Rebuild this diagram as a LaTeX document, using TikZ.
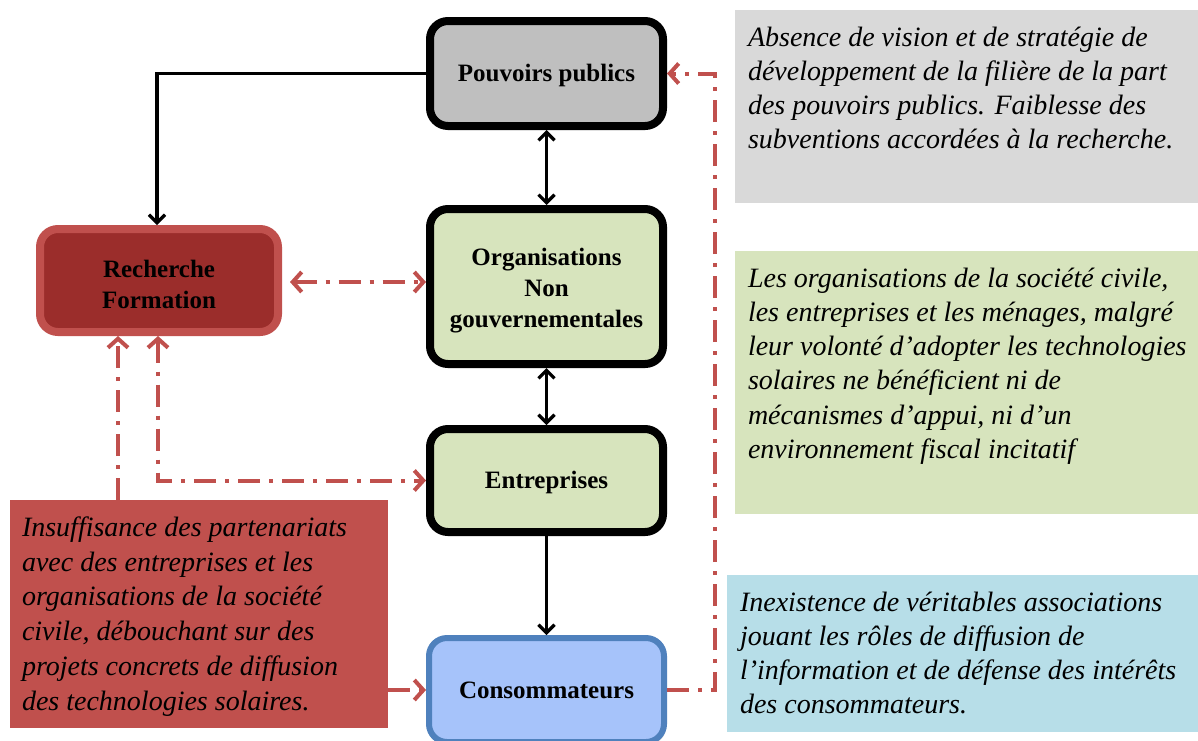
\documentclass[tikz,border=0pt]{standalone}
\usepackage{fontspec}
\setmainfont{Liberation Serif}
\usetikzlibrary{arrows.meta,shadows}
\definecolor{redline}{HTML}{C0504D}
\definecolor{darkred}{HTML}{9B2D2B}
\definecolor{pgray}{HTML}{BFBFBF}
\definecolor{lgreen}{HTML}{D7E4BD}
\definecolor{lblue}{HTML}{A6C3FA}
\definecolor{bblue}{HTML}{4F81BD}
\definecolor{tgray}{HTML}{D9D9D9}
\definecolor{tblue}{HTML}{B7DEE8}
\definecolor{tred}{HTML}{C0504D}
\begin{document}
\begin{tikzpicture}[x=1pt,y=-1pt,
  actor/.style={rounded corners=18pt, line width=8pt, draw=black, align=center,
    font=\bfseries\fontsize{25}{31}\selectfont, inner sep=0pt,
    drop shadow={opacity=0.25, shadow xshift=2pt, shadow yshift=-3pt}},
  note/.style={anchor=north west, inner sep=0pt, outer sep=0pt},
  tipb/.tip={Straight Barb[length=8pt,width=16pt,line width=3.3pt]},
  tipr/.tip={Straight Barb[length=9pt,width=20pt,line width=4pt]},
  flow/.style={line width=3.3pt, -tipb},
  bothflow/.style={line width=3.3pt, tipb-tipb},
  dd/.style={redline, line width=4pt, dash pattern=on 22pt off 9pt on 4pt off 9pt},
  ddarr/.style={dd, -tipr},
  ddboth/.style={dd, tipr-tipr}
]
\useasboundingbox (0,0) rectangle (1198,740);
\newcommand{\notetext}[3]{\parbox[t][#2][t]{#1}{\fontsize{28}{34.3}\selectfont\itshape\raggedright\leftskip=13pt\relax\vspace*{12pt}\strut #3}}

% main actors
\node[actor, fill=pgray, minimum width=233pt, minimum height=105pt] (pp) at (546.5,73.5) {\rule{0pt}{22pt}Pouvoirs publics};
\node[actor, fill=lgreen, minimum width=233pt, minimum height=155pt] (og) at (546.5,286.5) {\rule{0pt}{26pt}Organisations\\Non\\gouvernementales};
\node[actor, fill=lgreen, minimum width=233pt, minimum height=103pt] (en) at (546.5,480.5) {\rule{0pt}{22pt}Entreprises};
\node[actor, draw=bblue, line width=6pt, fill=lblue, minimum width=235pt, minimum height=104pt] (co) at (546.5,690) {Consommateurs};
\node[actor, draw=redline, fill=darkred, minimum width=238pt, minimum height=103pt] (rf) at (159,280.5) {\rule{0pt}{26pt}Recherche\\Formation};

% notes
\node[note, fill=tgray] (n1) at (735,10) {\notetext{463pt}{193pt}{%
Absence de vision et de stratégie de\\
développement de la filière de la part\\
des pouvoirs publics. Faiblesse des\\
subventions accordées à la recherche.}};
\node[note, fill=lgreen] (n2) at (735,251) {\notetext{463pt}{263pt}{%
Les organisations de la société civile,\\
les entreprises et les ménages, malgré\\
leur volonté d’adopter les technologies\\
solaires ne bénéficient ni de\\
mécanismes d’appui, ni d’un\\
environnement fiscal incitatif}};
\node[note, fill=tblue] (n3) at (727,575) {\notetext{471pt}{157pt}{%
Inexistence de véritables associations\\
jouant les rôles de diffusion de\\
l’information et de défense des intérêts\\
des consommateurs.}};
\node[note, fill=tred] (n4) at (10,500) {\parbox[t][228pt][t]{378pt}{\fontsize{28}{34.8}\selectfont\itshape\raggedright\leftskip=12pt\relax\vspace*{12pt}\strut
Insuffisance des partenariats\\
avec des entreprises et les\\
organisations de la société\\
civile, débouchant sur des\\
projets concrets de diffusion\\
des technologies solaires.}};

% black connectors
\draw[flow] (pp.west) -| ([xshift=-2pt]rf.north);
\draw[bothflow] (pp.south) -- (og.north);
\draw[bothflow] (og.south) -- (en.north);
\draw[flow] (en.south) -- (co.north);

% red dash-dot connectors
\draw[ddboth, shorten <=8pt] (rf.east |- 0,282) -- (og.west |- 0,282);
\draw[ddarr] ([xshift=-81pt]n4.north) -- ([xshift=-41pt]rf.south);
\draw[ddboth] ([xshift=-1pt]rf.south) |- (en.west);
\draw[ddarr] (n4.east |- co.west) -- (co.west);
\draw[ddarr] (co.east) -- ++(48,0) |- (pp.east);
\end{tikzpicture}
\end{document}
